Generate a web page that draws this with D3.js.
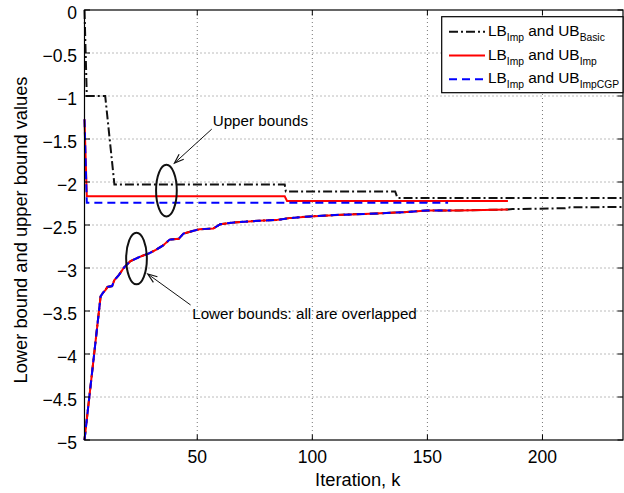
<!DOCTYPE html>
<html><head><meta charset="utf-8">
<script src="https://cdn.jsdelivr.net/npm/d3@7"></script>
<style>html,body{margin:0;padding:0;background:#fff;}svg{display:block;font-family:"Liberation Sans",Arial,Helvetica,sans-serif;}</style>
</head><body>
<svg id="c" width="624" height="493"></svg>
<script>
// ---- data ----
const xTicks = [50, 100, 150, 200];
const yTicks = [0, -0.5, -1, -1.5, -2, -2.5, -3, -3.5, -4, -4.5, -5];
const yTickLabels = ["0", "\u22120.5", "\u22121", "\u22121.5", "\u22122", "\u22122.5", "\u22123", "\u22123.5", "\u22124", "\u22124.5", "\u22125"];
// lower bound LB_Imp (iteration, value)
const lbIter = [1, 8, 9, 10, 11, 13, 14, 16, 18, 19, 21, 25, 29, 32, 35, 38, 42, 44, 48, 51, 57, 60, 66, 77, 85, 90, 99, 113, 125, 141, 150, 164, 185];
const lbVal  = [-5, -3.33, -3.29, -3.26, -3.22, -3.21, -3.14, -3.08, -3.0, -2.97, -2.92, -2.87, -2.83, -2.79, -2.74, -2.67, -2.66, -2.60, -2.57, -2.55, -2.54, -2.49, -2.47, -2.45, -2.44, -2.42, -2.40, -2.38, -2.37, -2.35, -2.33, -2.33, -2.32];
// LB continued in the basic run
const lbBasicExtIter = [187, 210, 212, 235];
const lbBasicExtVal  = [-2.315, -2.305, -2.295, -2.29];
// upper bounds
const ubBasicIter = [1, 2, 10, 14, 88, 88.5, 136, 137, 235];
const ubBasicVal  = [0, -1, -1, -2.03, -2.03, -2.11, -2.11, -2.185, -2.185];
const ubImpIter = [1, 2, 88, 89, 185];
const ubImpVal  = [-1.27, -2.167, -2.167, -2.22, -2.22];
const ubCgpIter = [1, 2, 159];
const ubCgpVal  = [-1.27, -2.24, -2.24];
const lbCgpEnd = 160;

const seriesNames = [
  {main1:"LB", sub1:"Imp", main2:" and UB", sub2:"Basic"},
  {main1:"LB", sub1:"Imp", main2:" and UB", sub2:"Imp"},
  {main1:"LB", sub1:"Imp", main2:" and UB", sub2:"ImpCGP"}
];

// ---- layout ----
const svg = d3.select("#c");
const L = 84.5, R = 623, T = 10, B = 440;
const x = d3.scaleLinear().domain([1, 235]).range([L, R]);
const y = d3.scaleLinear().domain([-5, 0]).range([B, T]);

const zip = (a, b) => a.map((v, i) => [v, b[i]]);
const lbPts = zip(lbIter, lbVal);
const lbBasic = lbPts.concat(zip(lbBasicExtIter, lbBasicExtVal));
const lbCgp = lbPts.filter(p => p[0] <= lbCgpEnd);
(function(){ const i = lbIter.findIndex(v => v > lbCgpEnd); const a = lbPts[i-1], b = lbPts[i]; lbCgp.push([lbCgpEnd, a[1] + (b[1]-a[1])*(lbCgpEnd-a[0])/(b[0]-a[0])]); })();

// grid
const g = svg.append("g");
g.selectAll(".gx").data(xTicks).enter().append("line")
  .attr("x1", d => x(d)).attr("x2", d => x(d)).attr("y1", T).attr("y2", B)
  .attr("stroke", "#555").attr("stroke-width", 0.8).attr("stroke-dasharray", "1,3");
g.selectAll(".gy").data(yTicks.filter(d => d > -5 && d < 0)).enter().append("line")
  .attr("x1", L).attr("x2", R).attr("y1", d => y(d)).attr("y2", d => y(d))
  .attr("stroke", "#555").attr("stroke-width", 0.8).attr("stroke-dasharray", "1,3");

const line = d3.line().x(d => x(d[0])).y(d => y(d[1]));
const plot = svg.append("g");
const blackStyle = {stroke:"#111", dash:"9,3,2,3"};
const redStyle = {stroke:"#ff0000", dash:null};
const blueStyle = {stroke:"#0000ff", dash:"8,5"};
function draw(pts, st) {
  plot.append("path").attr("d", line(pts)).attr("fill", "none")
    .attr("stroke", st.stroke).attr("stroke-width", 2)
    .attr("stroke-dasharray", st.dash);
}
draw(zip(ubBasicIter, ubBasicVal), blackStyle);
draw(lbBasic, blackStyle);
draw(zip(ubImpIter, ubImpVal), redStyle);
draw(lbPts, redStyle);
draw(zip(ubCgpIter, ubCgpVal), blueStyle);
draw(lbCgp, blueStyle);

// axes box
svg.append("rect").attr("x", L).attr("y", T).attr("width", R - L).attr("height", B - T)
  .attr("fill", "none").attr("stroke", "#000").attr("stroke-width", 1.2);

// ticks (inward) + labels
const tl = 5.5;
xTicks.forEach(d => {
  svg.append("line").attr("x1", x(d)).attr("x2", x(d)).attr("y1", B).attr("y2", B - tl).attr("stroke", "#000");
  svg.append("line").attr("x1", x(d)).attr("x2", x(d)).attr("y1", T).attr("y2", T + tl).attr("stroke", "#000");
});
yTicks.forEach(d => {
  svg.append("line").attr("x1", L).attr("x2", L + tl).attr("y1", y(d)).attr("y2", y(d)).attr("stroke", "#000");
  svg.append("line").attr("x1", R).attr("x2", R - tl).attr("y1", y(d)).attr("y2", y(d)).attr("stroke", "#000");
});
svg.append("g").selectAll("text").data(xTicks).enter().append("text")
  .attr("x", d => x(d)).attr("y", 462.5).attr("text-anchor", "middle")
  .attr("font-size", 17.5).attr("fill", "#000").text(d => d);
svg.append("g").selectAll("text").data(yTicks).enter().append("text")
  .attr("x", 77).attr("y", d => y(d) + 8.5).attr("text-anchor", "end")
  .attr("font-size", 17.5).attr("fill", "#000").text((d, i) => yTickLabels[i]);

// axis labels
svg.append("text").attr("x", (L + R) / 2 + 4).attr("y", 486).attr("text-anchor", "middle")
  .attr("font-size", 18.3).text("Iteration, k");
svg.append("text").attr("transform", "translate(27,230) rotate(-90)").attr("text-anchor", "middle")
  .attr("font-size", 18.3).text("Lower bound and upper bound values");

// annotations
function ell(cx, cy, rxIt, ryVal) {
  svg.append("ellipse").attr("cx", x(cx)).attr("cy", y(cy))
    .attr("rx", x(cx + rxIt) - x(cx)).attr("ry", y(cy - ryVal) - y(cy))
    .attr("fill", "none").attr("stroke", "#111").attr("stroke-width", 2);
}
function arrow(x1, y1, x2, y2) {
  const X1 = x(x1), Y1 = y(y1), X2 = x(x2), Y2 = y(y2);
  svg.append("line").attr("x1", X1).attr("y1", Y1).attr("x2", X2).attr("y2", Y2).attr("stroke", "#111").attr("stroke-width", 1);
  const a = Math.atan2(Y2 - Y1, X2 - X1), hl = 10, hw = 0.35;
  const p1 = [X2 - hl * Math.cos(a - hw), Y2 - hl * Math.sin(a - hw)];
  const p2 = [X2 - hl * Math.cos(a + hw), Y2 - hl * Math.sin(a + hw)];
  svg.append("path").attr("d", `M${p1}L${X2},${Y2}L${p2}`).attr("fill", "none").attr("stroke", "#111").attr("stroke-width", 1.2);
}
ell(36.6, -2.10, 4.5, 0.30);
ell(23.6, -2.89, 4.5, 0.30);
arrow(56.3, -1.385, 40.1, -1.78);
arrow(47.1, -3.43, 28.5, -3.07);
svg.append("text").attr("x", x(56.7)).attr("y", y(-1.29) + 5).attr("font-size", 15.2).text("Upper bounds");
svg.append("text").attr("x", x(47.8)).attr("y", y(-3.54) + 5).attr("font-size", 15.2).text("Lower bounds: all are overlapped");

// legend
const lg = svg.append("g");
lg.append("rect").attr("x", 441.7).attr("y", 16.7).attr("width", R - 441.7).attr("height", 76)
  .attr("fill", "#fff").attr("stroke", "#000").attr("stroke-width", 1.2);
const styles = [blackStyle, redStyle, blueStyle];
const rowsY = [31.8, 55.5, 79.2];
seriesNames.forEach((s, i) => {
  lg.append("line").attr("x1", 449).attr("x2", 485).attr("y1", rowsY[i]).attr("y2", rowsY[i])
    .attr("stroke", styles[i].stroke).attr("stroke-width", 2).attr("stroke-dasharray", styles[i].dash);
  const t = lg.append("text").attr("x", 488).attr("y", rowsY[i] + 4).attr("font-size", 15.4);
  t.append("tspan").text(s.main1);
  t.append("tspan").attr("font-size", 10.3).attr("dy", 5).text(s.sub1);
  t.append("tspan").attr("dy", -5).text(s.main2);
  t.append("tspan").attr("font-size", 10.3).attr("dy", 5).text(s.sub2);
});
</script>
</body></html>
